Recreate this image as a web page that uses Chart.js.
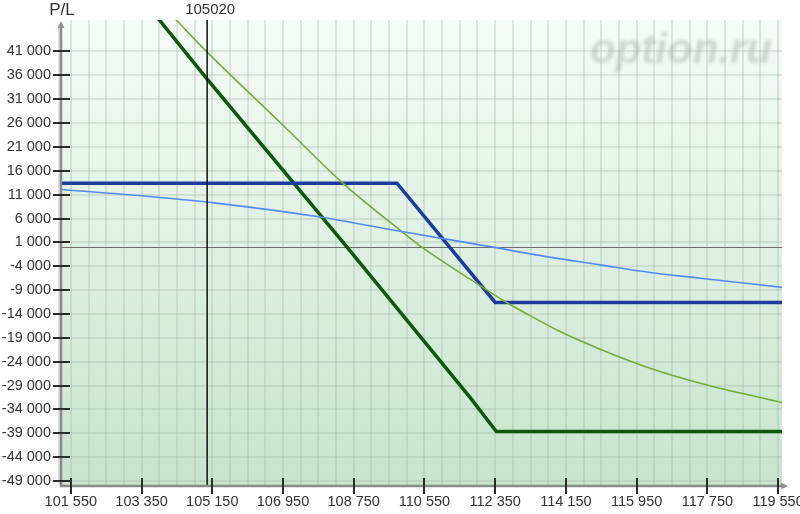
<!DOCTYPE html>
<html><head><meta charset="utf-8">
<script src="https://cdn.jsdelivr.net/npm/chart.js@4.4.0/dist/chart.umd.min.js"></script>
<style>html,body{margin:0;padding:0;background:#fff;overflow:hidden}#wrap{width:800px;height:514px;position:relative}</style>
</head><body><div id="wrap"><canvas id="c" width="800" height="514"></canvas></div>
<script>
// ---- data ----
const xTickValues = [101550,103350,105150,106950,108750,110550,112350,114150,115950,117750,119550];
const xTickLabels = ['101 550','103 350','105 150','106 950','108 750','110 550','112 350','114 150','115 950','117 750','119 550'];
const yTickValues = [-49000,-44000,-39000,-34000,-29000,-24000,-19000,-14000,-9000,-4000,1000,6000,11000,16000,21000,26000,31000,36000,41000];
const yTickLabels = ['-49 000','-44 000','-39 000','-34 000','-29 000','-24 000','-19 000','-14 000','-9 000','-4 000','1 000','6 000','11 000','16 000','21 000','26 000','31 000','36 000','41 000'];
const markerPrice = 105020;
const markerLabel = '105020';
const yAxisTitle = 'P/L';
const watermarkText = 'option.ru';

// dark green: position A at expiration
const posAExpX = [103000, 105020, 108580, 111710, 112380, 119650];
const posAExpY = [55800, 35200, 0, -31500, -38650, -38650];
// light green: position A today
const posANowX = [103500, 104226, 105020, 106958, 108470, 109972, 110481, 111711, 112640, 113238, 114002, 115021, 116293, 117571, 119654];
const posANowY = [53800, 47646, 40870, 25486, 13410, 3264, 0, -6715, -11600, -14346, -17700, -21390, -25373, -28518, -32585];
// thick blue: position B at expiration
const posBExpX = [101300, 109850, 112350, 119650];
const posBExpY = [13400, 13400, -11600, -11600];
// thin blue: position B today
const posBNowX = [101300, 103550, 105240, 107810, 109970, 112300, 113238, 115021, 116293, 117571, 119654];
const posBNowY = [12070, 10600, 9220, 6410, 3260, 0, -1411, -3717, -5331, -6505, -8430];

const pts = (xs, ys) => xs.map((x, i) => ({x, y: ys[i]}));

const FONT = '"Liberation Sans", Arial, sans-serif';

const decor = {
  id: 'decor',
  beforeDraw(chart) {
    const {ctx, chartArea: a} = chart;
    ctx.save();
    ctx.fillStyle = '#fff';
    ctx.fillRect(0, 0, chart.width, chart.height);
    const g = ctx.createLinearGradient(0, a.top, 0, a.bottom);
    g.addColorStop(0, '#f6fbf7');
    g.addColorStop(1, '#c7e4cd');
    ctx.fillStyle = g;
    ctx.fillRect(a.left, a.top, a.right - a.left, a.bottom - a.top);
    // watermark
    ctx.filter = 'blur(1.4px)';
    ctx.fillStyle = 'rgba(196,206,199,0.75)';
    ctx.font = 'bold italic 42px ' + FONT;
    ctx.textAlign = 'right';
    ctx.textBaseline = 'alphabetic';
    ctx.fillText(watermarkText, 772, 63);
    ctx.filter = 'none';
    ctx.restore();
  },
  beforeDatasetsDraw(chart) {
    const {ctx, chartArea: a, scales: {x, y}} = chart;
    ctx.save();
    const y0 = Math.round(y.getPixelForValue(0)) + 0.5;
    ctx.strokeStyle = '#6b6b6b';
    ctx.lineWidth = 1;
    ctx.beginPath(); ctx.moveTo(a.left, y0); ctx.lineTo(a.right, y0); ctx.stroke();
    ctx.restore();
  },
  afterDatasetsDraw(chart) {
    const {ctx, chartArea: a, scales: {x, y}} = chart;
    ctx.save();
    const xm = x.getPixelForValue(markerPrice);
    ctx.strokeStyle = '#111';
    ctx.lineWidth = 1.5;
    ctx.beginPath(); ctx.moveTo(xm, a.top); ctx.lineTo(xm, a.bottom); ctx.stroke();
    ctx.fillStyle = '#333';
    ctx.font = '15px ' + FONT;
    ctx.textAlign = 'center';
    ctx.textBaseline = 'middle';
    ctx.fillText(markerLabel, xm + 3, 10);
    ctx.font = '17px ' + FONT;
    ctx.fillText(yAxisTitle, 62, 10);
    // axes lines
    ctx.strokeStyle = 'rgba(0,0,0,0.12)';
    ctx.lineWidth = 2;
    ctx.beginPath(); ctx.moveTo(a.left - 2, a.top + 4); ctx.lineTo(a.left - 2, a.bottom); ctx.stroke();
    ctx.strokeStyle = '#858d86';
    ctx.lineWidth = 2.5;
    ctx.beginPath(); ctx.moveTo(a.left, a.top + 4); ctx.lineTo(a.left, a.bottom + 1); ctx.lineTo(a.right + 2, a.bottom + 1); ctx.stroke();
    ctx.fillStyle = '#8c948d';
    ctx.beginPath(); ctx.moveTo(a.left, a.top + 1); ctx.lineTo(a.left - 3.5, a.top + 8); ctx.lineTo(a.left + 3.5, a.top + 8); ctx.closePath(); ctx.fill();
    ctx.beginPath(); ctx.moveTo(a.right + 6, a.bottom + 1); ctx.lineTo(a.right - 1, a.bottom - 2.5); ctx.lineTo(a.right - 1, a.bottom + 4.5); ctx.closePath(); ctx.fill();
    // tick marks
    ctx.strokeStyle = '#2b2b2b';
    ctx.lineWidth = 2;
    yTickValues.forEach(v => {
      const py = Math.round(y.getPixelForValue(v));
      ctx.beginPath(); ctx.moveTo(a.left - 8, py); ctx.lineTo(a.left + 9, py); ctx.stroke();
    });
    xTickValues.forEach(v => {
      const px = Math.round(x.getPixelForValue(v));
      ctx.beginPath(); ctx.moveTo(px, a.bottom - 7); ctx.lineTo(px, a.bottom + 9); ctx.stroke();
    });
    ctx.restore();
  }
};

const gridColor = 'rgba(160,180,166,0.30)';

new Chart(document.getElementById('c'), {
  type: 'line',
  data: {
    datasets: [
      {data: pts(posBNowX, posBNowY), borderColor: '#4f8cf7', borderWidth: 1.6, cubicInterpolationMode: 'monotone'},
      {data: pts(posANowX, posANowY), borderColor: '#72ad35', borderWidth: 1.6, cubicInterpolationMode: 'monotone'},
      {data: pts(posBExpX, posBExpY), borderColor: '#1b3c9d', borderWidth: 3.5, tension: 0},
      {data: pts(posAExpX, posAExpY), borderColor: '#0a5a0a', borderWidth: 3.5, tension: 0}
    ]
  },
  options: {
    responsive: false,
    animation: false,
    devicePixelRatio: 1,
    layout: {padding: {top: 20, right: 18, left: 0, bottom: 0}},
    elements: {point: {radius: 0, hoverRadius: 0}, line: {borderJoinStyle: 'miter'}},
    plugins: {legend: {display: false}, tooltip: {enabled: false}},
    scales: {
      x: {
        type: 'linear', min: 101300, max: 119650,
        afterBuildTicks(s) {
          const t = [];
          for (let i = 0; i < xTickValues.length; i++) {
            t.push({value: xTickValues[i]});
            if (i < xTickValues.length - 1) {
              const step = (xTickValues[i + 1] - xTickValues[i]) / 4;
              for (let k = 1; k < 4; k++) t.push({value: xTickValues[i] + k * step});
            }
          }
          s.ticks = t;
        },
        afterFit(s) { s.height = 29; s.paddingLeft = 0; s.paddingRight = 0; },
        grid: {color: gridColor, lineWidth: 2, drawTicks: false},
        border: {display: false},
        ticks: {
          autoSkip: false, maxRotation: 0, minRotation: 0, padding: 8,
          color: '#333', font: {family: FONT, size: 14.5},
          callback(v) { const i = xTickValues.indexOf(v); return i >= 0 ? xTickLabels[i] : ''; }
        }
      },
      y: {
        type: 'linear', min: -49850, max: 47600,
        afterBuildTicks(s) { s.ticks = yTickValues.map(v => ({value: v})); },
        afterFit(s) { s.width = 61; s.paddingTop = 0; s.paddingBottom = 0; },
        grid: {color: gridColor, lineWidth: 2, drawTicks: false},
        border: {display: false},
        ticks: {
          autoSkip: false, padding: 10,
          color: '#333', font: {family: FONT, size: 14.5},
          callback(v) { const i = yTickValues.indexOf(v); return i >= 0 ? yTickLabels[i] : ''; }
        }
      }
    }
  },
  plugins: [decor]
});
</script>
</body></html>
